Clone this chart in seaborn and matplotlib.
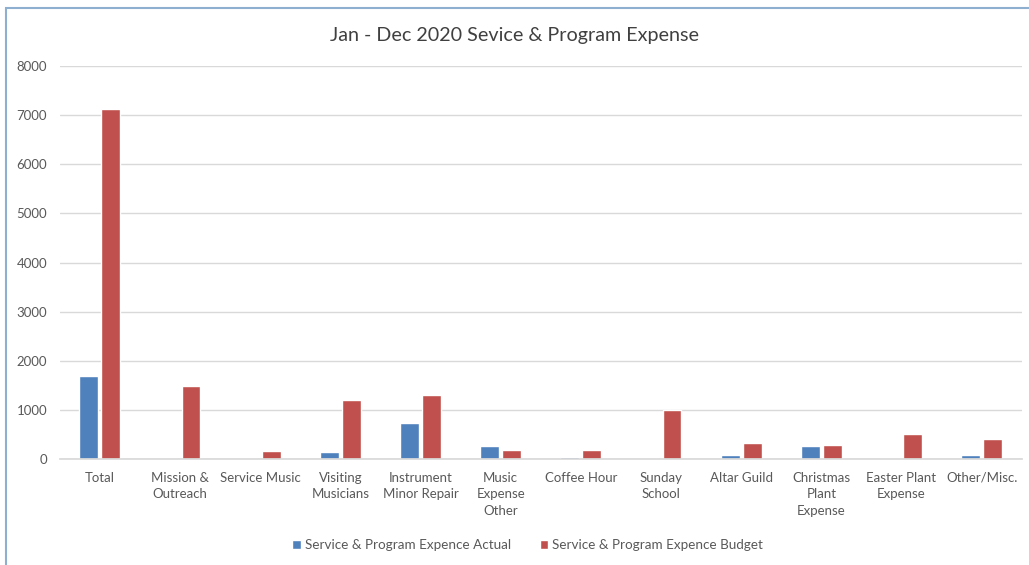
import pandas as pd
import matplotlib.pyplot as plt
import seaborn as sns
from matplotlib.patches import Rectangle

categories = ['Total', 'Mission &\nOutreach', 'Service Music', 'Visiting\nMusicians',
              'Instrument\nMinor Repair', 'Music\nExpense\nOther', 'Coffee Hour',
              'Sunday\nSchool', 'Altar Guild', 'Christmas\nPlant\nExpense',
              'Easter Plant\nExpense', 'Other/Misc.']
actual = [1700, 0, 0, 150, 740, 270, 40, 0, 90, 260, 0, 90]
budget = [7130, 1480, 170, 1200, 1300, 190, 190, 1000, 330, 290, 500, 400]
series_names = ['Service & Program Expence Actual', 'Service & Program Expence Budget']

df = pd.DataFrame({'Category': categories * 2,
                   'Value': actual + budget,
                   'Series': [series_names[0]] * len(categories) + [series_names[1]] * len(categories)})

sns.set_theme(style='white')
plt.rcParams['font.family'] = ['Lato', 'DejaVu Sans']
text_color = '#595959'

fig = plt.figure(figsize=(10.29, 5.65), dpi=100)
ax = fig.add_axes([0.058, 0.1876, 0.935, 0.6954])

sns.barplot(data=df, x='Category', y='Value', hue='Series', ax=ax,
            palette=['#4F81BD', '#C0504D'], width=0.55, gap=0.15,
            saturation=1, errorbar=None)

ax.set_ylim(0, 8000)
ax.set_yticks(range(0, 8001, 1000))
ax.yaxis.grid(True, color='#D9D9D9', linewidth=1)
ax.set_axisbelow(True)
for s in ['top', 'right', 'left']:
    ax.spines[s].set_visible(False)
ax.spines['bottom'].set_color('#D9D9D9')
ax.set_xlabel('')
ax.set_ylabel('')
ax.tick_params(axis='both', length=0, labelsize=9.5, colors=text_color)
ax.tick_params(axis='y', pad=9)
ax.tick_params(axis='x', pad=9)
for lbl in ax.get_xticklabels():
    lbl.set_linespacing(1.45)

fig.text(0.5, 0.938, 'Jan - Dec 2020 Sevice & Program Expense', ha='center', va='center',
         fontsize=14.2, color='#404040')

ax.legend(loc='center', bbox_to_anchor=(0.513, 0.035), bbox_transform=fig.transFigure,
          ncol=2, frameon=False, fontsize=9.7, labelcolor=text_color,
          handlelength=0.6, handleheight=0.6, handletextpad=0.3, columnspacing=2.2)

fig.patches.append(Rectangle((0.006, -0.05), 1.2, 1.036, transform=fig.transFigure,
                             fill=False, edgecolor='#8FAFD0', linewidth=1.5))

fig.savefig('out.png', dpi=100)
